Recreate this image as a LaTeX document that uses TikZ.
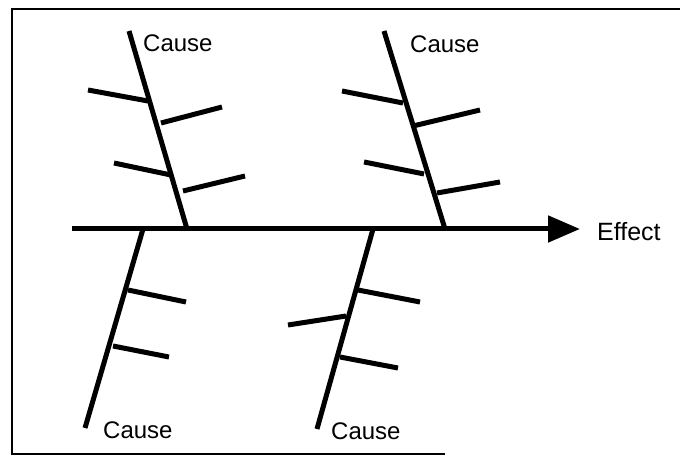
\documentclass[tikz,border=0pt]{standalone}
\usepackage{fontspec}
\setmainfont{Liberation Sans}
\usetikzlibrary{arrows.meta}
\begin{document}
\begin{tikzpicture}[x=1pt,y=-1pt,
  bone/.style={line width=5pt,line cap=butt},
  rib/.style={line width=5pt,line cap=butt},
  label/.style={inner sep=0pt,anchor=west,font=\fontsize{24}{27}\selectfont},
  frame/.style={line width=2.5pt}]
\useasboundingbox (0,0) rectangle (680,457);

% frame
\draw[frame] (680,9) -- (12,9) -- (12,454) -- (445,454);

% spine and effect
\coordinate (spineS) at (72,229);
\coordinate (spineE) at (580,229);
\draw[line width=5pt,-{Triangle[length=32pt,width=26pt]}] (spineS) -- (spineE);
\node[label,font=\fontsize{25}{28}\selectfont] (effect) at (597,232) {Effect};

% upper left bone
\coordinate (b1t) at (129,31);
\coordinate (b1b) at (187,229);
\draw[bone] (b1t) -- (b1b);
\draw[rib] (88,90) -- (148,101);
\draw[rib] (161,123) -- (222,107);
\draw[rib] (114,163) -- (171,175);
\draw[rib] (183,191) -- (245,176);
\node[label] (c1) at (143,43) {Cause};

% upper right bone
\coordinate (b2t) at (384,31);
\coordinate (b2b) at (445,229);
\draw[bone] (b2t) -- (b2b);
\draw[rib] (342,91) -- (403,103);
\draw[rib] (413,126) -- (480,110);
\draw[rib] (364,162) -- (424,174);
\draw[rib] (437,193) -- (500,182);
\node[label] (c2) at (410,44) {Cause};

% lower left bone
\coordinate (b3t) at (143,229);
\coordinate (b3b) at (85,428);
\draw[bone] (b3t) -- (b3b);
\draw[rib] (128,290) -- (186,302);
\draw[rib] (113,346) -- (169,357);
\node[label] (c3) at (103,430) {Cause};

% lower right bone
\coordinate (b4t) at (373,229);
\coordinate (b4b) at (317,429);
\draw[bone] (b4t) -- (b4b);
\draw[rib] (358,290) -- (420,302);
\draw[rib] (288,325) -- (346,316);
\draw[rib] (340,357) -- (398,368);
\node[label] (c4) at (331,431) {Cause};
\end{tikzpicture}
\end{document}
